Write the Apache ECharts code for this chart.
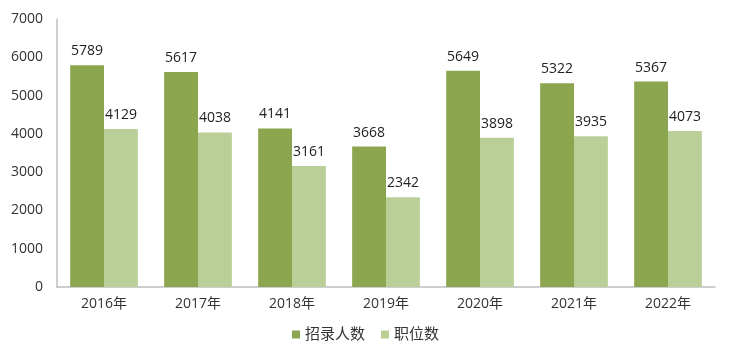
<!DOCTYPE html>
<html><head><meta charset="utf-8">
<script src="https://cdn.jsdelivr.net/npm/echarts@6/dist/echarts.min.js"></script>
<style>html,body{margin:0;padding:0;background:#fff}#c{width:731px;height:355px}</style>
</head><body><div id="c"></div>
<script>
var categories = ['2016年','2017年','2018年','2019年','2020年','2021年','2022年'];
var recruits = [5789, 5617, 4141, 3668, 5649, 5322, 5367];
var positions = [4129, 4038, 3161, 2342, 3898, 3935, 4073];
var seriesNames = ['招录人数', '职位数'];
var font = '"Open Sans", "Noto Sans CJK SC", sans-serif';
var chart = echarts.init(document.getElementById('c'));
chart.setOption({
  animation: false,
  textStyle: {fontFamily: font},
  grid: {left: 57, right: 16, top: 19, bottom: 68},
  legend: {
    bottom: 8, left: 'center', itemWidth: 8, itemHeight: 8, itemGap: 16,
    icon: 'rect',
    textStyle: {fontSize: 15, color: '#333', fontFamily: font},
    data: seriesNames
  },
  xAxis: {
    type: 'category', data: categories,
    axisLine: {lineStyle: {color: '#bfbfbf', width: 1.5}},
    axisTick: {show: false},
    axisLabel: {fontSize: 14, color: '#333', margin: 10, fontFamily: font}
  },
  yAxis: {
    type: 'value', min: 0, max: 7000, interval: 1000,
    axisLine: {show: true, lineStyle: {color: '#bfbfbf', width: 1.5}},
    splitLine: {show: false},
    axisTick: {show: false},
    axisLabel: {fontSize: 14, color: '#333', margin: 14, fontFamily: font,
      formatter: function (v) { return String(v); }}
  },
  series: [
    {name: seriesNames[0], type: 'bar', data: recruits, barGap: 0, barCategoryGap: '28%',
     itemStyle: {color: '#8ba64f'},
     label: {show: true, position: 'top', fontSize: 14, color: '#222', distance: 7, fontFamily: font}},
    {name: seriesNames[1], type: 'bar', data: positions, barGap: 0, barCategoryGap: '28%',
     itemStyle: {color: '#bacf98'},
     label: {show: true, position: 'top', fontSize: 14, color: '#222', distance: 7, fontFamily: font}}
  ]
});
</script></body></html>
